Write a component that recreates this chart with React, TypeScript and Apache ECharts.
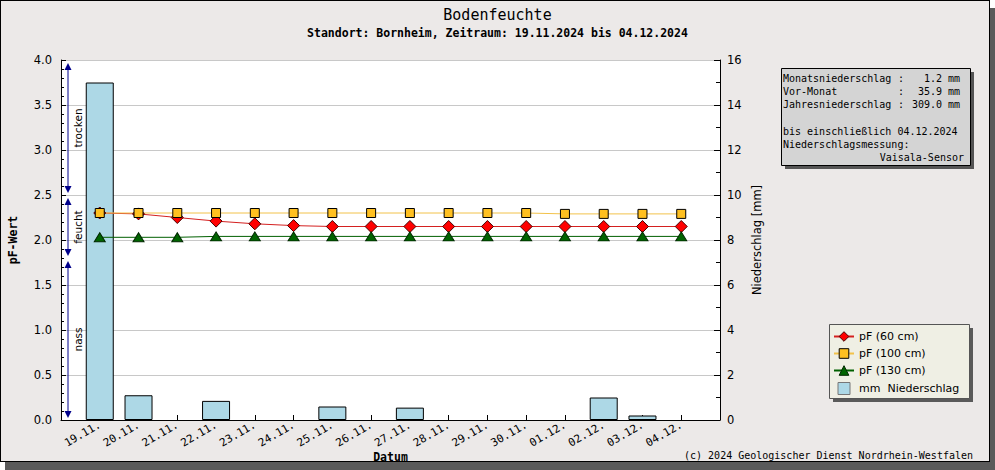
import React, { useEffect, useRef } from 'react';
import * as echarts from 'echarts';

// ---------- data ----------
const dates = ['19.11.', '20.11.', '21.11.', '22.11.', '23.11.', '24.11.', '25.11.', '26.11.', '27.11.', '28.11.', '29.11.', '30.11.', '01.12.', '02.12.', '03.12.', '04.12.'];
const rainMm = [15.0, 1.1, 0, 0.85, 0, 0, 0.6, 0, 0.55, 0, 0, 0, 0, 1.0, 0.2, 0];
const pf60 = [2.30, 2.29, 2.25, 2.21, 2.18, 2.16, 2.15, 2.15, 2.15, 2.15, 2.15, 2.15, 2.15, 2.15, 2.15, 2.15];
const pf100 = [2.30, 2.30, 2.30, 2.30, 2.30, 2.30, 2.30, 2.30, 2.30, 2.30, 2.30, 2.30, 2.29, 2.29, 2.29, 2.29];
const pf130 = [2.03, 2.03, 2.03, 2.04, 2.04, 2.04, 2.04, 2.04, 2.04, 2.04, 2.04, 2.04, 2.04, 2.04, 2.04, 2.04];
const seriesNames = ['pF (60 cm)', 'pF (100 cm)', 'pF (130 cm)', 'mm\u00a0\u00a0Niederschlag'];

const zoneNames = ['trocken', 'feucht', 'nass'];
const zoneTop = [4.0, 2.5, 1.8];
const zoneBottom = [2.5, 1.8, 0.0];

const titleText = 'Bodenfeuchte';
const subtitleText = 'Standort: Bornheim, Zeitraum: 19.11.2024 bis 04.12.2024';
const infoLabels = ['Monatsniederschlag', 'Vor-Monat', 'Jahresniederschlag'];
const infoValues = ['1.2', '35.9', '309.0'];
const infoUnit = 'mm';
const infoLines = ['bis einschließlich 04.12.2024', 'Niederschlagsmessung:'];
const sensorName = 'Vaisala-Sensor';
const copyrightText = '(c) 2024 Geologischer Dienst Nordrhein-Westfalen';

const MONO = '"DejaVu Sans Mono", "Liberation Mono", monospace';
const SANS = '"DejaVu Sans", sans-serif';

function buildOption(): any {
  return {
    animation: false,
    backgroundColor: 'transparent',
    title: [
      { text: titleText, left: 'center', top: 7, padding: 0, textStyle: { fontFamily: MONO, fontSize: 15, fontWeight: 'normal', color: '#000' } },
      { text: subtitleText, left: 'center', top: 27, padding: 0, textStyle: { fontFamily: MONO, fontSize: 11.5, fontWeight: 'bold', color: '#000' } },
    ],
    grid: { left: 61, right: 275, top: 60, bottom: 50, show: true, backgroundColor: '#fff', borderWidth: 0, outerBoundsMode: 'none', containLabel: false },
    legend: {
      orient: 'vertical', left: 833, top: 331, padding: 0, itemWidth: 20, itemHeight: 12, itemGap: 6,
      selectedMode: false, z: 6,
      itemStyle: { borderWidth: 1 },
      textStyle: { fontFamily: SANS, fontSize: 11, color: '#000' },
      data: [
        { name: seriesNames[0] },
        { name: seriesNames[1] },
        { name: seriesNames[2] },
        { name: seriesNames[3], icon: 'path://M0 0H10V10H0Z', itemStyle: { borderWidth: 1, borderColor: '#777' } },
      ],
    },
    xAxis: {
      type: 'value', min: 0, max: dates.length + 1, interval: 1,
      name: 'Datum', nameLocation: 'middle', nameGap: 31, nameMoveOverlap: false,
      nameTextStyle: { fontFamily: MONO, fontSize: 11.5, fontWeight: 'bold', color: '#000' },
      axisLine: { show: true, lineStyle: { color: '#000', width: 1 } },
      axisTick: { show: true, inside: true, length: 5, lineStyle: { color: '#000' } },
      axisLabel: {
        rotate: 30, margin: 4, fontFamily: MONO, fontSize: 11, color: '#000',
        showMinLabel: true, showMaxLabel: true, hideOverlap: false,
        formatter: (v: number) => (v >= 1 && v <= dates.length ? dates[v - 1] : ''),
      },
      splitLine: { show: false },
    },
    yAxis: [
      {
        type: 'value', min: 0, max: 4, interval: 0.5, position: 'left',
        name: 'pF-Wert', nameLocation: 'middle', nameGap: 42, nameRotate: 90, nameMoveOverlap: false,
        nameTextStyle: { fontFamily: MONO, fontSize: 11.5, fontWeight: 'bold', color: '#000' },
        axisLine: { show: true, lineStyle: { color: '#000', width: 1 } },
        axisTick: { show: true, inside: true, length: 5, lineStyle: { color: '#000' } },
        minorTick: { show: true, splitNumber: 5, length: 3, lineStyle: { color: '#000' } },
        axisLabel: { formatter: (v: number) => v.toFixed(1), fontFamily: SANS, fontSize: 11.5, color: '#000', margin: 9 },
        splitLine: { show: true, lineStyle: { color: '#c8c8c8', width: 1 } },
      },
      {
        type: 'value', min: 0, max: 16, interval: 2, position: 'right',
        name: 'Niederschlag [mm]', nameLocation: 'middle', nameGap: 31, nameRotate: 90, nameMoveOverlap: false,
        nameTextStyle: { fontFamily: SANS, fontSize: 11.5, color: '#000' },
        axisLine: { show: true, lineStyle: { color: '#000', width: 1 } },
        axisTick: { show: true, inside: true, length: 6, lineStyle: { color: '#000' } },
        minorTick: { show: true, splitNumber: 2, length: 4, lineStyle: { color: '#000' } },
        axisLabel: { fontFamily: SANS, fontSize: 11.5, color: '#000', margin: 7 },
        splitLine: { show: false },
      },
    ],
    series: [
      {
        type: 'bar', name: seriesNames[3], xAxisIndex: 0, yAxisIndex: 1,
        data: rainMm.map((v, i) => ({ value: [i + 1, v], itemStyle: v === 0 ? { borderWidth: 0 } : undefined })),
        barWidth: 28,
        itemStyle: { color: '#ADD8E6', borderColor: '#000', borderWidth: 1 },
      },
      {
        type: 'line', name: seriesNames[0], xAxisIndex: 0, yAxisIndex: 0,
        data: pf60.map((v, i) => [i + 1, v]), symbol: 'diamond', symbolSize: [12, 12],
        lineStyle: { color: '#d42020', width: 1 },
        itemStyle: { color: '#ff0000', borderColor: '#4a0000', borderWidth: 1 },
      },
      {
        type: 'line', name: seriesNames[1], xAxisIndex: 0, yAxisIndex: 0,
        data: pf100.map((v, i) => [i + 1, v]), symbol: 'rect', symbolSize: 9,
        lineStyle: { color: '#f2c24a', width: 1 },
        itemStyle: { color: '#ffc020', borderColor: '#000', borderWidth: 1 },
      },
      {
        type: 'line', name: seriesNames[2], xAxisIndex: 0, yAxisIndex: 0,
        data: pf130.map((v, i) => [i + 1, v]), symbol: 'triangle', symbolSize: [11, 9],
        lineStyle: { color: '#006000', width: 1 },
        itemStyle: { color: '#006400', borderColor: '#002800', borderWidth: 1 },
      },
    ],
  };
}

function buildGraphics(chart: any): any[] {
  const els: any[] = [];
  const toPx = (x: number, y: number) => chart.convertToPixel({ xAxisIndex: 0, yAxisIndex: 0 }, [x, y]);
  const ax = toPx(0, 0)[0] + 7;
  const navy = '#00008b';
  zoneNames.forEach((name, i) => {
    const yT = toPx(0, zoneTop[i])[1] + 3;
    const yB = toPx(0, zoneBottom[i])[1] - 2;
    els.push({ type: 'line', z: 10, shape: { x1: ax, y1: yT + 4, x2: ax, y2: yB - 4 }, style: { stroke: navy, lineWidth: 1 } });
    els.push({ type: 'polygon', z: 10, shape: { points: [[ax, yT], [ax - 3.5, yT + 7], [ax + 3.5, yT + 7]] }, style: { fill: navy } });
    els.push({ type: 'polygon', z: 10, shape: { points: [[ax, yB], [ax - 3.5, yB - 7], [ax + 3.5, yB - 7]] }, style: { fill: navy } });
    els.push({
      type: 'text', z: 10, x: ax + 10, y: (yT + yB) / 2, rotation: Math.PI / 2,
      style: { text: name, fill: '#000', fontFamily: SANS, fontSize: 10.5, align: 'center', verticalAlign: 'middle' },
    });
  });

  // info box
  const bx = 781, by = 68, bw = 189, bh = 97;
  els.push({ type: 'rect', z: 1, shape: { x: bx + 4, y: by + 4, width: bw, height: bh }, style: { fill: '#555' } });
  els.push({ type: 'rect', z: 1, shape: { x: bx + 0.5, y: by + 0.5, width: bw, height: bh }, style: { fill: '#d4d4d4', stroke: '#000', lineWidth: 1 } });
  const lh = 13.3;
  const tStyle = (text: string, align: string) => ({ text, fill: '#000', fontFamily: MONO, fontSize: 10, align, verticalAlign: 'middle' });
  infoLabels.forEach((lab, i) => {
    const y = 78 + i * lh;
    els.push({ type: 'text', z: 2, x: 783, y, style: tStyle(lab, 'left') });
    els.push({ type: 'text', z: 2, x: 898, y, style: tStyle(':', 'left') });
    els.push({ type: 'text', z: 2, x: 942, y, style: tStyle(infoValues[i], 'right') });
    els.push({ type: 'text', z: 2, x: 948, y, style: tStyle(infoUnit, 'left') });
  });
  infoLines.forEach((t, i) => {
    els.push({ type: 'text', z: 2, x: 783, y: 78 + (4 + i) * lh, style: tStyle(t, 'left') });
  });
  els.push({ type: 'text', z: 2, x: 964, y: 78 + 6 * lh, style: tStyle(sensorName, 'right') });

  // legend box
  const lx = 829, ly = 324, lw = 140, lhh = 74;
  els.push({ type: 'rect', z: 1, shape: { x: lx + 4, y: ly + 4, width: lw, height: lhh }, style: { fill: '#5a5a5a' } });
  els.push({ type: 'rect', z: 1, shape: { x: lx + 0.5, y: ly + 0.5, width: lw, height: lhh }, style: { fill: '#efefe4', stroke: '#555', lineWidth: 1 } });

  // copyright
  els.push({ type: 'text', z: 2, x: 973, y: 455, style: tStyle(copyrightText, 'right') });
  return els;
}

export default function App() {
  const ref = useRef<HTMLDivElement>(null);
  useEffect(() => {
    document.body.style.margin = '0';
    const chart = echarts.init(ref.current as HTMLDivElement, null, { renderer: 'svg', width: 995, height: 470 });
    chart.setOption(buildOption());
    chart.setOption({ graphic: { elements: buildGraphics(chart) } });
    return () => chart.dispose();
  }, []);
  return (
    <div style={{ position: 'relative', width: 995, height: 470, background: '#fff', overflow: 'hidden' }}>
      <div style={{ position: 'absolute', left: 0, top: 0, width: 988, height: 460, border: '1px solid #000', background: '#ece9e8', boxShadow: '5px 8px 0 #5a5a5a' }} />
      <div ref={ref} style={{ position: 'absolute', left: 0, top: 0, width: 995, height: 470 }} />
    </div>
  );
}
